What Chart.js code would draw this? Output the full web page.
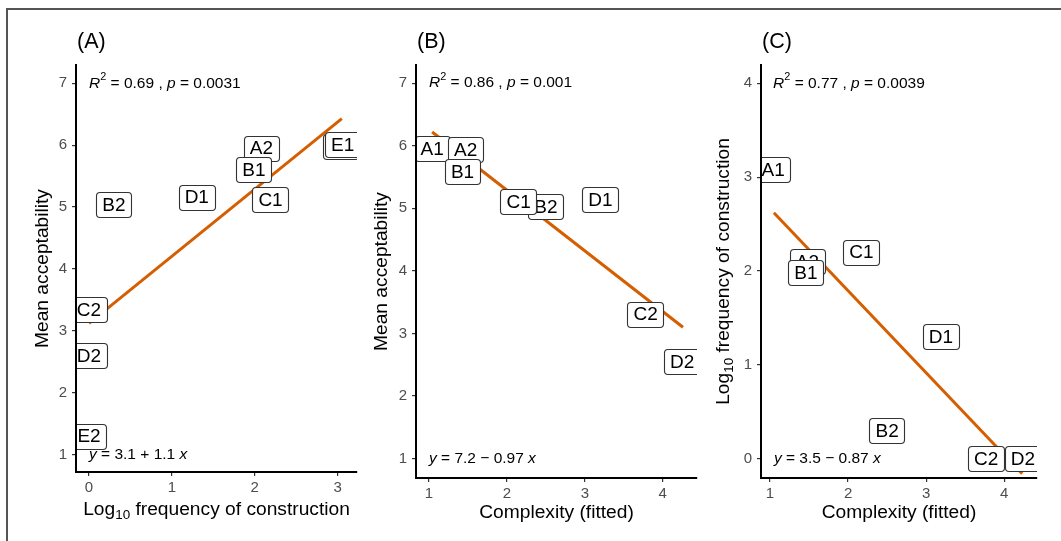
<!DOCTYPE html>
<html>
<head>
<meta charset="utf-8">
<script src="https://cdn.jsdelivr.net/npm/chart.js@4.4.0/dist/chart.umd.min.js"></script>
<style>
  body { margin: 0; background: #fff; width: 1061px; height: 541px; overflow: hidden; position: relative; }
  #frame { position: absolute; left: 6px; top: 8px; width: 1100px; height: 600px;
           border-left: 2px solid #555; border-top: 2px solid #555; }
  canvas { position: absolute; top: 0; }
</style>
</head>
<body>
<div id="frame"></div>
<canvas id="panelA" width="352" height="541" style="left:10px"></canvas>
<canvas id="panelB" width="340" height="541" style="left:362px"></canvas>
<canvas id="panelC" width="359" height="541" style="left:702px"></canvas>
<script>
// ---- values ----
// (A) log10 frequency vs mean acceptability
var labelsA  = ['A1', 'A2', 'B1', 'B2', 'C1', 'C2', 'D1', 'D2', 'E1', 'E2'];
var freqA    = [3.04, 2.08, 1.99, 0.30, 2.19, 0.00, 1.30, 0.00, 3.06, 0.00];
var acceptA  = [5.98, 5.95, 5.61, 5.04, 5.12, 3.34, 5.16, 2.60, 6.01, 1.30];
var fitFreqA   = [0, 3.05];
var fitAcceptA = [3.12, 6.43];

// (B) complexity vs mean acceptability
var labelsB   = ['A1', 'A2', 'B1', 'B2', 'C1', 'C2', 'D1', 'D2'];
var complexB  = [1.04, 1.47, 1.43, 2.50, 2.15, 3.78, 3.20, 4.25];
var acceptB   = [5.95, 5.94, 5.59, 5.03, 5.11, 3.31, 5.14, 2.55];
var fitComplexB = [1.04, 4.26];
var fitAcceptB  = [6.22, 3.10];

// (C) complexity vs log10 frequency
var labelsC   = ['A1', 'A2', 'B1', 'B2', 'C1', 'C2', 'D1', 'D2'];
var complexC  = [1.04, 1.48, 1.46, 2.50, 2.17, 3.77, 3.19, 4.24];
var freqC     = [3.08, 2.10, 1.98, 0.30, 2.20, 0.00, 1.30, 0.00];
var fitComplexC = [1.05, 4.23];
var fitFreqC    = [2.62, -0.16];

// tick labels
var ticksFreqX   = [0, 1, 2, 3];
var ticksComplex = [1, 2, 3, 4];
var ticksAccept  = [1, 2, 3, 4, 5, 6, 7];
var ticksFreqY   = [0, 1, 2, 3, 4];

// annotation texts: [text, style]  n = normal, i = italic, sup / sub
var statA = [['R', 'i'], ['2', 'sup'], [' = 0.69 , ', 'n'], ['p', 'i'], [' = 0.0031', 'n']];
var statB = [['R', 'i'], ['2', 'sup'], [' = 0.86 , ', 'n'], ['p', 'i'], [' = 0.001', 'n']];
var statC = [['R', 'i'], ['2', 'sup'], [' = 0.77 , ', 'n'], ['p', 'i'], [' = 0.0039', 'n']];
var eqA = [['y', 'i'], [' = 3.1 + 1.1 ', 'n'], ['x', 'i']];
var eqB = [['y', 'i'], [' = 7.2 \u2212 0.97 ', 'n'], ['x', 'i']];
var eqC = [['y', 'i'], [' = 3.5 \u2212 0.87 ', 'n'], ['x', 'i']];

var titleFreq    = [['Log', 'n'], ['10', 'sub'], [' frequency of construction', 'n']];
var titleAccept  = [['Mean acceptability', 'n']];
var titleComplex = [['Complexity (fitted)', 'n']];

var FONT = '"Liberation Sans", Arial, sans-serif';

function partFont(style, size) {
    var small = style === 'sup' || style === 'sub';
    return (style === 'i' ? 'italic ' : '') + (small ? size * 0.7 : size) + 'px ' + FONT;
}

function richWidth(ctx, parts, size) {
    var w = 0;
    parts.forEach(function(p) {
        ctx.font = partFont(p[1], size);
        w += ctx.measureText(p[0]).width;
    });
    return w;
}

function drawRich(ctx, parts, x, y, size, align) {
    var cx = align === 'center' ? x - richWidth(ctx, parts, size) / 2 : x;
    ctx.textAlign = 'left';
    ctx.textBaseline = 'middle';
    parts.forEach(function(p) {
        ctx.font = partFont(p[1], size);
        var dy = p[1] === 'sup' ? -size * 0.42 : (p[1] === 'sub' ? size * 0.28 : 0);
        ctx.fillText(p[0], cx, y + dy);
        cx += ctx.measureText(p[0]).width;
    });
}

function boxPath(ctx, x, y, w, h, r) {
    ctx.beginPath();
    ctx.moveTo(x + r, y);
    ctx.lineTo(x + w - r, y);
    ctx.arcTo(x + w, y, x + w, y + r, r);
    ctx.lineTo(x + w, y + h - r);
    ctx.arcTo(x + w, y + h, x + w - r, y + h, r);
    ctx.lineTo(x + r, y + h);
    ctx.arcTo(x, y + h, x, y + h - r, r);
    ctx.lineTo(x, y + r);
    ctx.arcTo(x, y, x + r, y, r);
    ctx.closePath();
}

// labels in boxes, regression annotations, axis titles
var panelPlugin = {
    id: 'panelText',
    afterDatasetsDraw: function(chart) {
        var o = chart.options.plugins.panelText;
        var ctx = chart.ctx, area = chart.chartArea;
        var xs = chart.scales.x, ys = chart.scales.y;
        var meta = chart.getDatasetMeta(1);

        ctx.save();
        ctx.beginPath();
        ctx.rect(area.left, area.top, area.right - area.left, area.bottom - area.top);
        ctx.clip();
        meta.data.forEach(function(pt, i) {
            var text = o.labels[i];
            ctx.font = '19px ' + FONT;
            var w = ctx.measureText(text).width + 12, h = 25;
            boxPath(ctx, Math.round(pt.x - w / 2) + 0.5, Math.round(pt.y - h / 2) + 0.5, Math.round(w), h, 3.5);
            ctx.fillStyle = '#fff';
            ctx.fill();
            ctx.strokeStyle = '#333';
            ctx.lineWidth = 1.1;
            ctx.stroke();
            ctx.fillStyle = '#000';
            ctx.textAlign = 'center';
            ctx.textBaseline = 'middle';
            ctx.fillText(text, pt.x, pt.y + 1);
        });
        ctx.restore();

        ctx.save();
        ctx.fillStyle = '#000';
        drawRich(ctx, o.stat, xs.getPixelForValue(o.statAt[0]), ys.getPixelForValue(o.statAt[1]), 15.5, 'left');
        drawRich(ctx, o.eq, xs.getPixelForValue(o.eqAt[0]), ys.getPixelForValue(o.eqAt[1]), 15.5, 'left');
        ctx.restore();
    },
    afterDraw: function(chart) {
        var o = chart.options.plugins.panelText;
        var ctx = chart.ctx, area = chart.chartArea;
        ctx.save();
        ctx.fillStyle = '#000';
        drawRich(ctx, [[o.tag, 'n']], area.left + 1, 42, 21.5, 'left');
        drawRich(ctx, o.xTitle, (area.left + area.right) / 2, o.xTitleY, 19.2, 'center');
        ctx.translate(o.yTitleX, (area.top + area.bottom) / 2);
        ctx.rotate(-Math.PI / 2);
        drawRich(ctx, o.yTitle, 0, 0, 19.2, 'center');
        ctx.restore();
    }
};

function axis(min, max, tickValues, fit) {
    return {
        type: 'linear',
        min: min,
        max: max,
        afterBuildTicks: function(s) {
            s.ticks = tickValues.map(function(v) { return { value: v }; });
        },
        afterFit: fit,
        grid: { drawOnChartArea: false, drawTicks: true, tickLength: 4, tickColor: '#333', lineWidth: 1.2 },
        border: { display: true, color: '#000', width: 2, z: 1 },
        ticks: { color: '#4d4d4d', font: { family: FONT, size: 15 }, padding: 5 }
    };
}

function makePanel(id, p) {
    var pts = p.xs.map(function(x, i) { return { x: x, y: p.ys[i] }; });
    var fit = p.fitX.map(function(x, i) { return { x: x, y: p.fitY[i] }; });
    var xAxis = axis(p.xRange[0], p.xRange[1], p.xTicks, function(s) { s.height = 50; });
    xAxis.position = 'bottom';
    xAxis.ticks.padding = 3;
    var yAxis = axis(p.yRange[0], p.yRange[1], p.yTicks, function(s) { s.width = p.yWidth; });
    yAxis.position = 'left';

    return new Chart(document.getElementById(id), {
        type: 'scatter',
        data: {
            datasets: [
                { data: fit, showLine: true, borderColor: '#D55E00', borderWidth: 3, pointRadius: 0, fill: false },
                { data: pts, pointRadius: 0, pointHoverRadius: 0 }
            ]
        },
        options: {
            responsive: false,
            animation: false,
            events: [],
            layout: { padding: p.pad },
            plugins: {
                legend: { display: false },
                tooltip: { enabled: false },
                panelText: {
                    labels: p.labels, tag: p.tag,
                    stat: p.stat, statAt: p.statAt, eq: p.eq, eqAt: p.eqAt,
                    xTitle: p.xTitle, xTitleY: p.xTitleY, yTitle: p.yTitle, yTitleX: p.yTitleX
                }
            },
            scales: { x: xAxis, y: yAxis }
        },
        plugins: [panelPlugin]
    });
}

makePanel('panelA', {
    labels: labelsA, xs: freqA, ys: acceptA, fitX: fitFreqA, fitY: fitAcceptA,
    xRange: [-0.157, 3.233], yRange: [0.72, 7.295], xTicks: ticksFreqX, yTicks: ticksAccept,
    yWidth: 66, pad: { left: 0, top: 65, right: 5, bottom: 19 },
    tag: '(A)', stat: statA, statAt: [0, 7], eq: eqA, eqAt: [0, 1],
    xTitle: titleFreq, xTitleY: 510, yTitle: titleAccept, yTitleX: 33
});

makePanel('panelB', {
    labels: labelsB, xs: complexB, ys: acceptB, fitX: fitComplexB, fitY: fitAcceptB,
    xRange: [0.833, 4.44], yRange: [0.69, 7.29], xTicks: ticksComplex, yTicks: ticksAccept,
    yWidth: 54, pad: { left: 0, top: 65, right: 5, bottom: 13 },
    tag: '(B)', stat: statB, statAt: [1.0, 7], eq: eqB, eqAt: [1.0, 1],
    xTitle: titleComplex, xTitleY: 513, yTitle: titleAccept, yTitleX: 20
});

makePanel('panelC', {
    labels: labelsC, xs: complexC, ys: freqC, fitX: fitComplexC, fitY: fitFreqC,
    xRange: [0.885, 4.42], yRange: [-0.205, 4.195], xTicks: ticksComplex, yTicks: ticksFreqY,
    yWidth: 59, pad: { left: 0, top: 65, right: 24, bottom: 13 },
    tag: '(C)', stat: statC, statAt: [1.04, 4], eq: eqC, eqAt: [1.05, 0],
    xTitle: titleComplex, xTitleY: 513, yTitle: titleFreq, yTitleX: 22
});
</script>
</body>
</html>
